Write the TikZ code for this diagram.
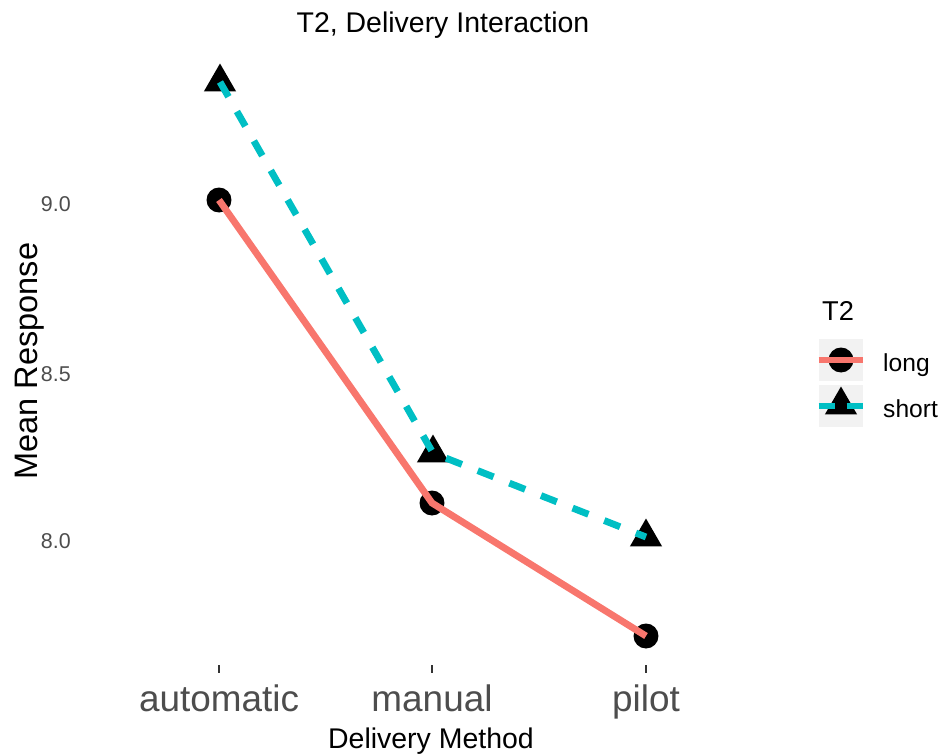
\documentclass[tikz,border=0pt]{standalone}
\usepackage{fontspec}
\setmainfont{Liberation Sans}
\usetikzlibrary{shapes.geometric}
\definecolor{longcol}{HTML}{F8766D}
\definecolor{shortcol}{HTML}{00BFC4}
\definecolor{ticklab}{HTML}{4D4D4D}
\definecolor{tickcol}{HTML}{333333}
\definecolor{keybg}{HTML}{F2F2F2}
\newcommand{\fs}[1]{\fontsize{#1}{#1}\selectfont}
\begin{document}
\begin{tikzpicture}[x=0.02cm,y=-0.02cm,
  dot/.style={circle,fill=black,inner sep=0pt,minimum size=0.5cm},
  tri/.style={regular polygon,regular polygon sides=3,fill=black,inner sep=0pt,minimum size=0.74cm},
  longline/.style={draw=longcol,line width=3.9pt},
  shortline/.style={draw=shortcol,line width=3.9pt,dash pattern=on 0.34cm off 0.34cm},
  keyshortline/.style={draw=shortcol,line width=3.9pt,dash pattern=on 0.32cm off 0.24cm},
  tickmark/.style={draw=tickcol,line width=0.6pt},
  xlab/.style={anchor=base,text=ticklab,font=\fs{21}},
  ylab/.style={anchor=base east,text=ticklab,font=\fs{12.2}},
  axtitle/.style={text=black,font=\fs{16.2}},
  keybox/.style={fill=keybg,draw=none,minimum width=0.88cm,minimum height=0.86cm,inner sep=0pt},
  keylab/.style={anchor=base west,text=black,font=\fs{14}}
]
\useasboundingbox (0,0) rectangle (938,754);

% title
\node[axtitle,anchor=base] (title) at (443,32) {T2, Delivery Interaction};

% y axis labels
\node[ylab] (y90) at (77,211) {9.0};
\node[ylab] (y85) at (77,381) {8.5};
\node[ylab] (y80) at (77,548) {8.0};
\node[anchor=base,rotate=90,text=black,font=\fs{18.5}] (ytitle) at (37,361) {Mean Response};

% x axis ticks and labels
\foreach \x/\n in {219/ta,432/tm,646/tp}{
  \coordinate (\n a) at (\x,665);
  \coordinate (\n b) at (\x,673);
  \draw[tickmark] (\n a) -- (\n b);
}
\node[xlab] (xa) at (219,711) {automatic};
\node[xlab] (xm) at (432,711) {manual};
\node[xlab] (xp) at (646,711) {pilot};
\node[axtitle,anchor=base] (xtitle) at (431,748) {Delivery Method};

% data markers
\node[dot] (al) at (219,200) {};
\node[dot] (ml) at (432,503) {};
\node[dot] (pl) at (646,636) {};
\node[tri] (as) at (220,82) {};
\node[tri] (ms) at (433,453) {};
\node[tri] (ps) at (646,537) {};

% lines drawn over the markers
\draw[longline] (al.center) -- (ml.center) -- (pl.center);
\draw[shortline] (as.center) -- (ms.center) -- (ps.center);

% legend
\node[anchor=base west,text=black,font=\fs{15.5}] (legtitle) at (816,320) {T2};
\node[keybox] (k1) at (841,360) {};
\node[keybox] (k2) at (841,406) {};
\node[dot] (k1m) at (k1.center) {};
\node[tri] (k2m) at ([yshift=0.02cm]k2.center) {};
\draw[longline] (k1.west) -- (k1.east);
\draw[keyshortline] (k2.west) -- (k2.east);
\node[keylab] (l1) at (877,371) {long};
\node[keylab] (l2) at (877,417) {short};
\end{tikzpicture}
\end{document}
